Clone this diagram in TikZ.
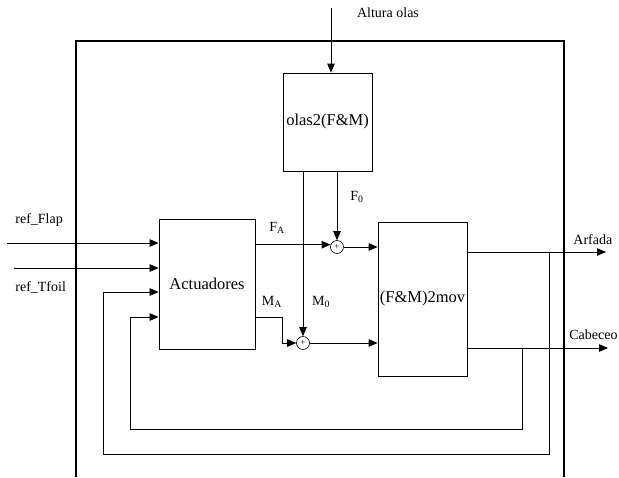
\documentclass[tikz,border=0pt]{standalone}
\usepackage{fontspec}
\setmainfont{Liberation Serif}
\usetikzlibrary{arrows.meta,calc}
\begin{document}
\begin{tikzpicture}[x=1pt,y=-1pt,
  line width=0.8pt,
  blk/.style={draw,line width=0.8pt,minimum width=#1,inner sep=0pt,font=\fontsize{16.5}{18}\selectfont},
  lbl/.style={inner sep=0pt,font=\fontsize{14}{16}\selectfont},
  sumnode/.style={draw,circle,minimum size=13pt,inner sep=0pt,line width=0.6pt},
  arr/.style={-{Triangle[length=9pt,width=7.5pt]}},
  frame/.style={line width=2pt}]
\useasboundingbox (0,0) rectangle (619,477);
% outer frame (open at bottom)
\draw[frame] (76,477) coordinate (fbl) -- (76,41) coordinate (ftl) -- (564,41) coordinate (ftr) -- (564,477) coordinate (fbr);
% blocks
\node[blk=89pt,minimum height=98pt] (olas) at (327.5,122) {olas2(F\&M)};
\node[blk=96pt,minimum height=130pt] (act) at (207,284) {Actuadores};
\node[blk=89pt,minimum height=154pt] (mov) at (422.5,299) {(F\&M)2mov};
\node[sumnode] (s1) at (337,247) {};
\node[sumnode] (s2) at (303,343) {};
\node[font=\fontsize{9}{9}\selectfont,inner sep=0pt] at (s1) {+};
\node[font=\fontsize{9}{9}\selectfont,inner sep=0pt] at (s2) {+};
% labels
\node[lbl] (alt) at (388,13) {Altura olas};
\node[lbl] (lF0) at (357,197) {F\textsubscript{0}};
\node[lbl] (lFA) at (277,228) {F\textsubscript{A}};
\node[lbl] (lMA) at (272,302) {M\textsubscript{A}};
\node[lbl] (lM0) at (321,302) {M\textsubscript{0}};
\node[lbl,anchor=west] (lflap) at (15,220) {ref\_Flap};
\node[lbl,anchor=west] (ltfoil) at (15,287) {ref\_Tfoil};
\node[lbl,anchor=west] (larf) at (573,240) {Arfada};
\node[lbl,anchor=east] (lcab) at (618,335) {Cabeceo};
% coordinates
\coordinate (altin) at (331,8);
\coordinate (flapin) at (7,243);
\coordinate (tfoilin) at (14,268);
\coordinate (arfout) at (606,252);
\coordinate (cabout) at (608,348);
% wave input
\draw[arr] (altin) -- (altin |- olas.north);
% olas outputs
\draw[arr] (s1 |- olas.south) -- (s1.north);
\draw[arr] (s2 |- olas.south) -- (s2.north);
% actuator outputs
\draw[arr] (act.east |- s1.160) -- (s1.160);
\draw[arr] (act.east |- 0,317) -- (282,317) -- (282,343) -- (s2.west);
% sums to mov
\draw[arr] (s1.east) -- (mov.west |- s1.east);
\draw[arr] (s2.east) -- (mov.west |- s2.east);
% inputs
\draw[arr] (flapin) -- (act.west |- flapin);
\draw[arr] (tfoilin) -- (act.west |- tfoilin);
% outputs
\draw[arr] (mov.east |- arfout) -- (arfout);
\draw[arr] (mov.east |- cabout) -- (cabout);
% feedback loops
\coordinate (j1) at (549,252);
\coordinate (j2) at (522,348);
\draw[arr] (j1) -- (549,454) -- (103,454) -- (103,292) -- (act.west |- 0,292);
\draw[arr] (j2) -- (522,429) -- (130,429) -- (130,317) -- (act.west |- 0,317);
\end{tikzpicture}
\end{document}
